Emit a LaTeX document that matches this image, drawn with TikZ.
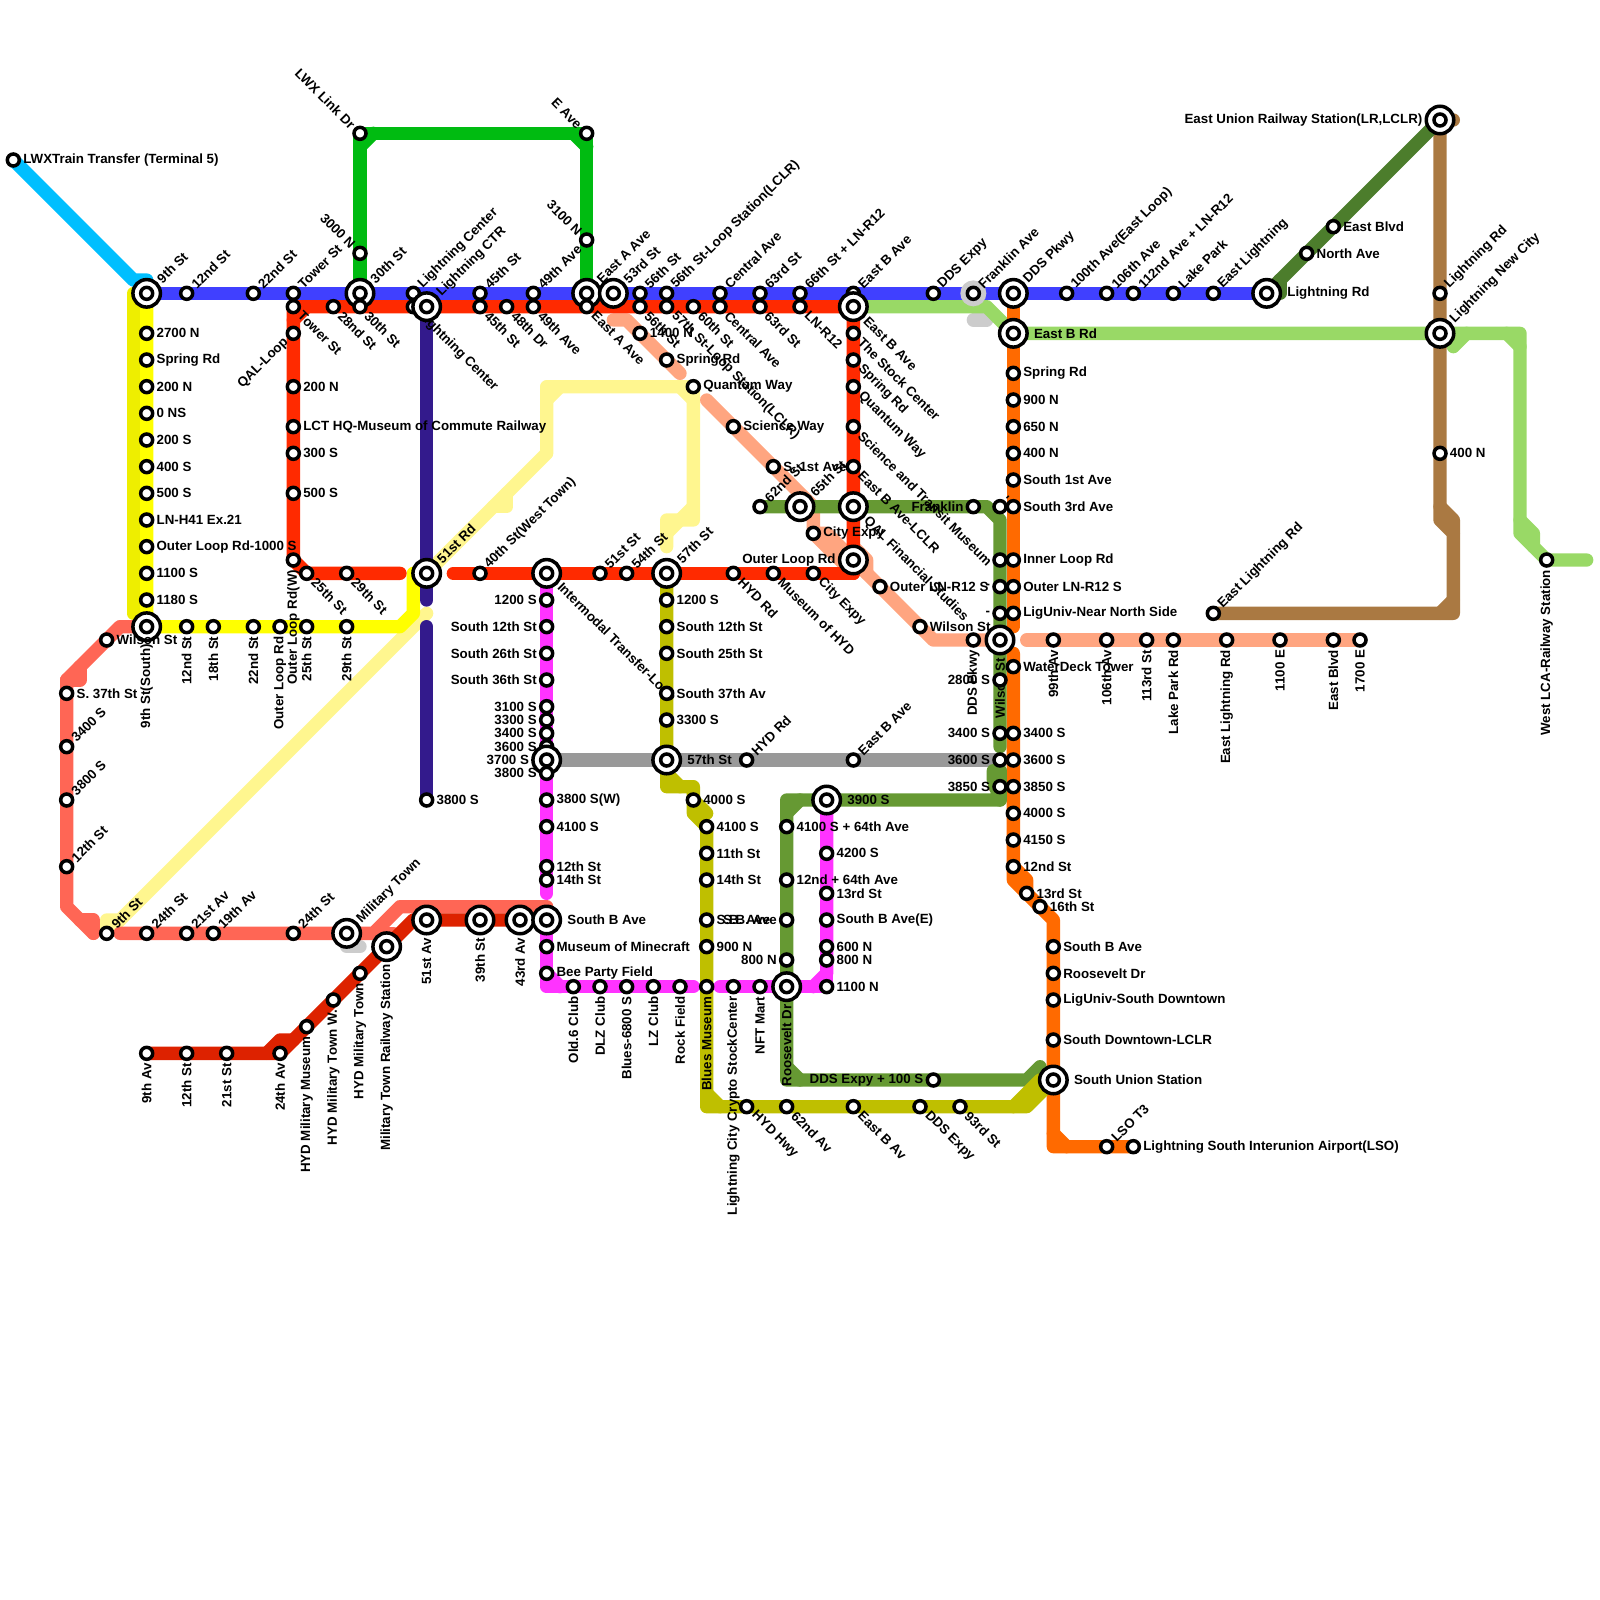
\documentclass[tikz,border=0pt]{standalone}
\usepackage{fontspec}
\setmainfont{Liberation Sans}
\usetikzlibrary{backgrounds}
\definecolor{lnblue}{HTML}{4040FF}
\definecolor{lnred}{HTML}{FF2A00}
\definecolor{lncyan}{HTML}{00BFFF}
\definecolor{lnyellow}{HTML}{FFFF00}
\definecolor{lndkyellow}{HTML}{EEEE00}
\definecolor{lnpale}{HTML}{FFF68F}
\definecolor{lncoral}{HTML}{FF6655}
\definecolor{lndkred}{HTML}{DD2200}
\definecolor{lngreen}{HTML}{00BB11}
\definecolor{lnpurple}{HTML}{331A8C}
\definecolor{lnmagenta}{HTML}{FF33FF}
\definecolor{lnolive}{HTML}{BFBF00}
\definecolor{lnmoss}{HTML}{669933}
\definecolor{lnforest}{HTML}{4C7D2C}
\definecolor{lnlime}{HTML}{99D966}
\definecolor{lnsalmon}{HTML}{FFA580}
\definecolor{lnorange}{HTML}{FF6A00}
\definecolor{lngrey}{HTML}{999999}
\definecolor{lnbrown}{HTML}{AA7942}
\definecolor{lnhalo}{HTML}{CCCCCC}
\tikzset{
  stn/.style={circle, draw=black, fill=white, line width=3.5pt, inner sep=0pt,
              minimum size=12pt},
  hub/.style={circle, draw=black, fill=white, line width=3.5pt, inner sep=0pt,
              minimum size=27.5pt,
              path picture={\draw[line width=3.5pt] (path picture bounding box.center) circle (6pt);}},
  halo/.style={circle, fill=lnhalo, inner sep=0pt, minimum size=26pt},
  lbl/.style={inner sep=2pt, font=\fontsize{13.33}{15}\selectfont\bfseries},
  tE/.style={label={[lbl, anchor=west]0:#1}},
  hE/.style={label={[lbl, anchor=west, xshift=3pt]0:#1}},
  tW/.style={label={[lbl, anchor=east]180:#1}},
  tS/.style={label={[lbl, rotate=90, anchor=east]-90:#1}},
  tNE/.style={label={[lbl, rotate=45, anchor=west]45:#1}},
  tSE/.style={label={[lbl, rotate=-45, anchor=west]-45:#1}},
  tNW/.style={label={[lbl, rotate=-45, anchor=east]135:#1}},
  tSW/.style={label={[lbl, rotate=45, anchor=east]225:#1}},
  ln/.style={line width=13.33pt, line cap=round, line join=round},
  cyanln/.style={ln, draw=lncyan},
  paleln/.style={ln, draw=lnpale},
  dkyellowln/.style={ln, draw=lndkyellow},
  yellowln/.style={ln, draw=lnyellow},
  coralln/.style={ln, draw=lncoral},
  dkredln/.style={ln, draw=lndkred},
  greenln/.style={ln, draw=lngreen},
  blueln/.style={ln, draw=lnblue},
  redln/.style={ln, draw=lnred},
  purpleln/.style={ln, draw=lnpurple},
  magentaln/.style={ln, draw=lnmagenta},
  oliveln/.style={ln, draw=lnolive},
  mossln/.style={ln, draw=lnmoss},
  forestln/.style={ln, draw=lnforest},
  limeln/.style={ln, draw=lnlime},
  salmonln/.style={ln, draw=lnsalmon},
  orangeln/.style={ln, draw=lnorange},
  greyln/.style={ln, draw=lngrey},
  brownln/.style={ln, draw=lnbrown},
  pill/.style={ln, draw=lnhalo}
}
\begin{document}
\begin{tikzpicture}[x=13.333pt,y=-13.333pt]
  \useasboundingbox (0,0) rectangle (120,120);

  \node[stn, tE={LWXTrain Transfer (Terminal 5)}] (xlwx) at (1,12) {};

  \node[hub, tNE={9th St}] (b9th) at (11,22) {};
  \node[stn, tNE={12nd St}] (b12nd) at (14,22) {};
  \node[stn, tNE={22nd St}] (b22nd) at (19,22) {};
  \node[stn, tNE={Tower St}] (btower) at (22,22) {};
  \node[hub, tNE={30th St}] (b30th) at (27,22) {};
  \node[stn, tNE={Lightning Center}] (blc) at (31,22) {};
  \node[stn, tNE={45th St}] (b45th) at (36,22) {};
  \node[stn, tNE={49th Ave}] (b49th) at (40,22) {};
  \node[hub, tNE={East A Ave}] (beasta) at (44,22) {};
  \node[hub, tNE={53rd St}] (b53rd) at (46,22) {};
  \node[stn, tNE={56th St}] (b56th) at (48,22) {};
  \node[stn, tNE={56th St-Loop Station(LCLR)}] (b56loop) at (50,22) {};
  \node[stn, tNE={Central Ave}] (bcent) at (54,22) {};
  \node[stn, tNE={63rd St}] (b63rd) at (57,22) {};
  \node[stn, tNE={66th St + LN-R12}] (b66th) at (60,22) {};
  \node[stn, tNE={East B Ave}] (beastb) at (64,22) {};
  \node[stn, tNE={DDS Expy}] (bdds) at (70,22) {};
  \node[halo] (hfrank) at (73,22) {};
  \node[stn, tNE={Franklin Ave}] (bfrank) at (73,22) {};
  \node[hub, tNE={DDS Pkwy}] (bpkwy) at (76,22) {};
  \node[stn, tNE={100th Ave(East Loop)}] (b100th) at (80,22) {};
  \node[stn, tNE={106th Ave}] (b106th) at (83,22) {};
  \node[stn, tNE={112nd Ave + LN-R12}] (b112nd) at (85,22) {};
  \node[stn, tNE={Lake Park}] (blake) at (88,22) {};
  \node[stn, tNE={East Lightning}] (beastl) at (91,22) {};
  \node[hub, hE={Lightning Rd}] (blrd) at (95,22) {};

  \node[stn, tSE={Tower St}] (rtower) at (22,23) {};
  \node[stn, tSE={28nd St}] (r28nd) at (25,23) {};
  \node[stn, tSE={30th St}] (r30th) at (27,23) {};
  \node[stn, tSE={Lightning Center}] (rlc) at (31,23) {};
  \node[hub, tNE={Lightning CTR}] (rlctr) at (32,23) {};
  \node[stn, tSE={45th St}] (r45th) at (36,23) {};
  \node[stn, tSE={48th Dr}] (r48th) at (38,23) {};
  \node[stn, tSE={49th Ave}] (r49th) at (40,23) {};
  \node[stn, tSE={East A Ave}] (reasta) at (44,23) {};
  \node[stn, tSE={56th St}] (r56th) at (48,23) {};
  \node[stn, tSE={57th St-Loop Station(LCLR)}] (r57th) at (50,23) {};
  \node[stn, tSE={60th St}] (r60th) at (52,23) {};
  \node[stn, tSE={Central Ave}] (rcent) at (54,23) {};
  \node[stn, tSE={63rd St}] (r63rd) at (57,23) {};
  \node[stn, tSE={LN-R12}] (rlnr) at (60,23) {};
  \node[hub, tSE={East B Ave}] (rebig) at (64,23) {};
  \node[stn, tSE={The Stock Center}] (rstock) at (64,25) {};
  \node[stn, tSE={Spring Rd}] (rspring) at (64,27) {};
  \node[stn, tSE={Quantum Way}] (rquant) at (64,29) {};
  \node[stn, tSE={Science and Transit Museum}] (rsci) at (64,32) {};
  \node[stn, tSE={East B Ave-LCLR}] (rlclr) at (64,35) {};
  \node[hub, tSE={QAL Financial Studies}] (rqalf) at (64,38) {};
  \node[hub, tW={Outer Loop Rd}] (rolr) at (64,42) {};
  \node[stn, tSW={QAL-Loop}] (rqal) at (22,25) {};
  \node[stn, tE={200 N}] (r200n) at (22,29) {};
  \node[stn, tE={LCT HQ-Museum of Commute Railway}] (rlct) at (22,32) {};
  \node[stn, tE={300 S}] (r300s) at (22,34) {};
  \node[stn, tE={500 S}] (r500s) at (22,37) {};
  \node[stn, tS={Outer Loop Rd(W)}] (router) at (22,42) {};
  \node[stn, tSE={25th St}] (r25th) at (23,43) {};
  \node[stn, tSE={29th St}] (r29th) at (26,43) {};
  \node[hub, tNE={51st Rd}] (r51rd) at (32,43) {};
  \node[stn, tNE={40th St(West Town)}] (r40th) at (36,43) {};
  \node[hub, tSE={Intermodal Transfer-Loop}] (rinter) at (41,43) {};
  \node[stn, tNE={51st St}] (r51st) at (45,43) {};
  \node[stn, tNE={54th St}] (r54th) at (47,43) {};
  \node[hub, tNE={57th St}] (rc57) at (50,43) {};
  \node[stn, tSE={HYD Rd}] (rhyd) at (55,43) {};
  \node[stn, tSE={Museum of HYD}] (rmus) at (58,43) {};
  \node[stn, tSE={City Expy}] (rcity) at (61,43) {};

  \node[stn, tNW={LWX Link Dr}] (glwx) at (27,10) {};
  \node[stn, tNW={3000 N}] (g3000) at (27,19) {};
  \node[stn, tNW={E Ave}] (geave) at (44,10) {};
  \node[stn, tNW={3100 N}] (g3100) at (44,18) {};

  \node[stn, tE={2700 N}] (y2700) at (11,25) {};
  \node[stn, tE={Spring Rd}] (yspring) at (11,27) {};
  \node[stn, tE={200 N}] (y200n) at (11,29) {};
  \node[stn, tE={0 NS}] (y0ns) at (11,31) {};
  \node[stn, tE={200 S}] (y200s) at (11,33) {};
  \node[stn, tE={400 S}] (y400s) at (11,35) {};
  \node[stn, tE={500 S}] (y500s) at (11,37) {};
  \node[stn, tE={LN-H41 Ex.21}] (ylnh) at (11,39) {};
  \node[stn, tE={Outer Loop Rd-1000 S}] (yloop1) at (11,41) {};
  \node[stn, tE={1100 S}] (y1100) at (11,43) {};
  \node[stn, tE={1180 S}] (y1180) at (11,45) {};
  \node[hub, tS={9th St(South)}] (ysouth) at (11,47) {};
  \node[stn, tS={12nd St}] (y12nd) at (14,47) {};
  \node[stn, tS={18th St}] (y18th) at (16,47) {};
  \node[stn, tS={22nd St}] (y22nd) at (19,47) {};
  \node[stn, tS={Outer Loop Rd}] (yloop2) at (21,47) {};
  \node[stn, tS={25th St}] (y25th) at (23,47) {};
  \node[stn, tS={29th St}] (y29th) at (26,47) {};

  \node[stn, tNE={9th St}] (c9th) at (8,70) {};
  \node[stn, tE={Wilson St}] (cwil) at (8,48) {};
  \node[stn, tE={S. 37th St}] (c37) at (5,52) {};
  \node[stn, tNE={3400 S}] (c3400) at (5,56) {};
  \node[stn, tNE={3800 S}] (c3800) at (5,60) {};
  \node[stn, tNE={12th St}] (c12th) at (5,65) {};
  \node[stn, tNE={24th St}] (c24a) at (11,70) {};
  \node[stn, tNE={21st Av}] (c21) at (14,70) {};
  \node[stn, tNE={19th Av}] (c19) at (16,70) {};
  \node[stn, tNE={24th St}] (c24b) at (22,70) {};
  \node[hub, tNE={Military Town}] (cmil) at (26,70) {};

  \node[stn, tS={9th Av}] (d9th) at (11,79) {};
  \node[stn, tS={12th St}] (d12th) at (14,79) {};
  \node[stn, tS={21st St}] (d21st) at (17,79) {};
  \node[stn, tS={24th Av}] (d24th) at (21,79) {};
  \node[stn, tS={HYD Military Museum}] (dmus) at (23,77) {};
  \node[stn, tS={HYD Military Town W.}] (dtownw) at (25,75) {};
  \node[stn, tS={HYD Military Town}] (dtown) at (27,73) {};
  \node[hub, tS={Military Town Railway Station}] (drail) at (29,71) {};
  \node[hub, tS={51st Av}] (d51st) at (32,69) {};
  \node[hub, tS={39th St}] (d39th) at (36,69) {};
  \node[hub, tS={43rd Av}] (d43rd) at (39,69) {};
  \node[hub, hE={South B Ave}] (dsouth) at (41,69) {};

  \node[stn, tE={3800 S}] (p3800) at (32,60) {};

  \node[stn, tW={1200 S}] (m1200) at (41,45) {};
  \node[stn, tW={South 12th St}] (m12s) at (41,47) {};
  \node[stn, tW={South 26th St}] (m26s) at (41,49) {};
  \node[stn, tW={South 36th St}] (m36s) at (41,51) {};
  \node[stn, tW={3100 S}] (m3100) at (41,53) {};
  \node[stn, tW={3300 S}] (m3300) at (41,54) {};
  \node[stn, tW={3400 S}] (m3400) at (41,55) {};
  \node[stn, tW={3600 S}] (m3600) at (41,56) {};
  \node[hub, tW={3700 S}] (m3700) at (41,57) {};
  \node[stn, tW={3800 S}] (m3800) at (41,58) {};
  \node[stn, tE={3800 S(W)}] (m3800w) at (41,60) {};
  \node[stn, tE={4100 S}] (m4100) at (41,62) {};
  \node[stn, tE={12th St}] (m12th) at (41,65) {};
  \node[stn, tE={14th St}] (m14th) at (41,66) {};
  \node[stn, tE={Museum of Minecraft}] (mmine) at (41,71) {};
  \node[stn, tE={Bee Party Field}] (mbee) at (41,73) {};
  \node[stn, tS={Old.6 Club}] (mold) at (43,74) {};
  \node[stn, tS={DLZ Club}] (mdlz) at (45,74) {};
  \node[stn, tS={Blues-6800 S}] (mblues) at (47,74) {};
  \node[stn, tS={LZ Club}] (mlz) at (49,74) {};
  \node[stn, tS={Rock Field}] (mrock) at (51,74) {};
  \node[stn, tS={Blues Museum}] (mbmus) at (53,74) {};
  \node[stn, tS={Lightning City Crypto StockCenter}] (mcrypto) at (55,74) {};
  \node[stn, tS={NFT Mart}] (mnft) at (57,74) {};
  \node[hub, tS={Roosevelt Dr}] (mroos) at (59,74) {};
  \node[stn, tE={1100 N}] (m1100) at (62,74) {};
  \node[stn, tE={800 N}] (m800) at (62,72) {};
  \node[stn, tE={600 N}] (m600) at (62,71) {};
  \node[stn, tE={South B Ave(E)}] (msbe) at (62,69) {};
  \node[stn, tE={13rd St}] (m13rd) at (62,67) {};
  \node[stn, tE={4200 S}] (m4200) at (62,64) {};
  \node[hub, hE={3900 S}] (m3900) at (62,60) {};

  \node[stn, tE={1200 S}] (o1200) at (50,45) {};
  \node[stn, tE={South 12th St}] (o12s) at (50,47) {};
  \node[stn, tE={South 25th St}] (o25s) at (50,49) {};
  \node[stn, tE={South 37th Av}] (o37s) at (50,52) {};
  \node[stn, tE={3300 S}] (o3300) at (50,54) {};
  \node[hub, hE={57th St}] (o57th) at (50,57) {};
  \node[stn, tE={4000 S}] (o4000) at (52,60) {};
  \node[stn, tE={4100 S}] (o4100) at (53,62) {};
  \node[stn, tE={11th St}] (o11th) at (53,64) {};
  \node[stn, tE={14th St}] (o14th) at (53,66) {};
  \node[stn, tE={S.B. Ave}] (osb) at (53,69) {};
  \node[stn, tE={900 N}] (o900) at (53,71) {};
  \node[stn, tSE={HYD Hwy}] (ohwy) at (56,83) {};
  \node[stn, tSE={62nd Av}] (o62nd) at (59,83) {};
  \node[stn, tSE={East B Av}] (oeast) at (64,83) {};
  \node[stn, tSE={DDS Expy}] (odds) at (69,83) {};
  \node[stn, tSE={93rd St}] (o93rd) at (72,83) {};

  \node[stn, tNE={HYD Rd}] (hhyd) at (56,57) {};
  \node[stn, tNE={East B Ave}] (heast) at (64,57) {};

  \node[stn, tNE={62nd St}] (f62nd) at (57,38) {};
  \node[hub, tNE={65th St}] (f65th) at (60,38) {};
  \node[stn, tW={Franklin}] (ffrank) at (73,38) {};
  \node[stn, tNE={-}] (f38) at (75,38) {};
  \node[stn] (f42) at (75,42) {};
  \node[stn, tW={-}] (f44) at (75,44) {};
  \node[stn, tW={-}] (f46) at (75,46) {};
  \node[stn, tS={DDS Pkwy}] (spkwy) at (73,48) {};
  \node[hub, tS={Wilson St}] (fwil) at (75,48) {};
  \node[stn, tW={2800 S}] (f2800) at (75,51) {};
  \node[stn, tW={3400 S}] (f3400) at (75,55) {};
  \node[stn, tW={3600 S}] (f3600) at (75,57) {};
  \node[stn, tW={3850 S}] (f3850) at (75,59) {};
  \node[stn, tE={4100 S + 64th Ave}] (f4100) at (59,62) {};
  \node[stn, tE={12nd + 64th Ave}] (f12nd) at (59,66) {};
  \node[stn, tW={S.B. Ave}] (fsb) at (59,69) {};
  \node[stn, tW={800 N}] (f800) at (59,72) {};
  \node[stn, tW={DDS Expy + 100 S}] (fdds) at (70,81) {};

  \node[stn, tE={1400 N}] (s1400) at (48,25) {};
  \node[stn, tE={Spring Rd}] (sspring) at (50,27) {};
  \node[stn, tE={Quantum Way}] (squant) at (52,29) {};
  \node[stn, tE={Science Way}] (ssci) at (55,32) {};
  \node[stn, tE={S. 1st Ave}] (s1st) at (58,35) {};
  \node[stn, tE={City Expy}] (scity) at (61,40) {};
  \node[stn, tE={Outer LN-R12 S}] (souter) at (66,44) {};
  \node[stn, tE={Wilson St}] (swil) at (69,47) {};
  \node[stn, tS={99th Av}] (s99th) at (79,48) {};
  \node[stn, tS={106th Av}] (s106th) at (83,48) {};
  \node[stn, tS={113rd St}] (s113rd) at (86,48) {};
  \node[stn, tS={Lake Park Rd}] (slake) at (88,48) {};
  \node[stn, tS={East Lightning Rd}] (seastl) at (92,48) {};
  \node[stn, tS={1100 E}] (s1100) at (96,48) {};
  \node[stn, tS={East Blvd}] (sblvd) at (100,48) {};
  \node[stn, tS={1700 E}] (s1700) at (102,48) {};

  \node[hub, hE={East B Rd}] (neast) at (76,25) {};
  \node[stn, tE={Spring Rd}] (nspring) at (76,28) {};
  \node[stn, tE={900 N}] (n900) at (76,30) {};
  \node[stn, tE={650 N}] (n650) at (76,32) {};
  \node[stn, tE={400 N}] (n400) at (76,34) {};
  \node[stn, tE={South 1st Ave}] (n1st) at (76,36) {};
  \node[stn, tE={South 3rd Ave}] (n3rd) at (76,38) {};
  \node[stn, tE={Inner Loop Rd}] (ninner) at (76,42) {};
  \node[stn, tE={Outer LN-R12 S}] (nouter) at (76,44) {};
  \node[stn, tE={LigUniv-Near North Side}] (nnear) at (76,46) {};
  \node[stn, tE={WaterDeck Tower}] (nwater) at (76,50) {};
  \node[stn, tE={3400 S}] (n3400) at (76,55) {};
  \node[stn, tE={3600 S}] (n3600) at (76,57) {};
  \node[stn, tE={3850 S}] (n3850) at (76,59) {};
  \node[stn, tE={4000 S}] (n4000) at (76,61) {};
  \node[stn, tE={4150 S}] (n4150) at (76,63) {};
  \node[stn, tE={12nd St}] (n12nd) at (76,65) {};
  \node[stn, tE={13rd St}] (n13rd) at (77,67) {};
  \node[stn, tE={16th St}] (n16th) at (78,68) {};
  \node[stn, tE={South B Ave}] (nsouth) at (79,71) {};
  \node[stn, tE={Roosevelt Dr}] (nroos) at (79,73) {};
  \node[stn, tE={LigUniv-South Downtown}] (nlig) at (79,75) {};
  \node[stn, tE={South Downtown-LCLR}] (ndown) at (79,78) {};
  \node[hub, hE={South Union Station}] (nunion) at (79,81) {};
  \node[stn, tNE={LSO T3}] (nlso) at (83,86) {};
  \node[stn, tE={Lightning South Interunion Airport(LSO)}] (nair) at (85,86) {};

  \node[stn, tE={North Ave}] (enorth) at (98,19) {};
  \node[stn, tE={East Blvd}] (eblvd) at (100,17) {};
  \node[hub, tW={East Union Railway Station(LR,LCLR)}] (eunion) at (108,9) {};
  \node[stn, tNE={Lightning Rd}] (wlrd) at (108,22) {};
  \node[hub, tNE={Lightning New City}] (wcity) at (108,25) {};
  \node[stn, tE={400 N}] (w400) at (108,34) {};
  \node[stn, tNE={East Lightning Rd}] (weast) at (91,46) {};
  \node[stn, tS={West LCA-Railway Station}] (lwest) at (116,42) {};

  \coordinate (cy1) at (10,21);
  \coordinate (cy2) at (11,21);
  \coordinate (pa1) at (32,46);
  \coordinate (pa2) at (9,69);
  \coordinate (pa3) at (8,69);
  \coordinate (pa4) at (41,34);
  \coordinate (pa5) at (41,29);
  \coordinate (pa6) at (52,39);
  \coordinate (pa7) at (50,39);
  \coordinate (pa8) at (50,41);
  \coordinate (pa9) at (38,37);
  \coordinate (pa10) at (38,38);
  \coordinate (pa11) at (37,38);
  \coordinate (pa12) at (41,30);
  \coordinate (pa13) at (42,29);
  \coordinate (pa14) at (51,29);
  \coordinate (pa15) at (52,30);
  \coordinate (pa16) at (52,38);
  \coordinate (pa17) at (51,39);
  \coordinate (pa18) at (50,40);
  \coordinate (yd1) at (10,22);
  \coordinate (yd2) at (10,46);
  \coordinate (yd3) at (11,46);
  \coordinate (ye1) at (30,47);
  \coordinate (ye2) at (31,46);
  \coordinate (ye3) at (31,43);
  \coordinate (co1) at (9,47);
  \coordinate (co2) at (5,51);
  \coordinate (co3) at (5,68);
  \coordinate (co4) at (7,70);
  \coordinate (co5) at (6,51);
  \coordinate (co6) at (6,50);
  \coordinate (co7) at (6,69);
  \coordinate (co8) at (7,69);
  \coordinate (co9) at (9,70);
  \coordinate (co10) at (28,70);
  \coordinate (co11) at (30,68);
  \coordinate (co12) at (41,68);
  \coordinate (co13) at (29.5,70);
  \coordinate (dk1) at (20,79);
  \coordinate (dk2) at (21,78);
  \coordinate (dk3) at (22,78);
  \coordinate (dk4) at (31,69);
  \coordinate (gr1) at (27,11);
  \coordinate (gr2) at (28,10);
  \coordinate (gr3) at (43,10);
  \coordinate (gr4) at (44,11);
  \coordinate (re1) at (30,43);
  \coordinate (re2) at (34,43);
  \coordinate (re3) at (64,43);
  \coordinate (re4) at (22,24);
  \coordinate (re5) at (23,23);
  \coordinate (pu1) at (32,45);
  \coordinate (pu2) at (32,47);
  \coordinate (ma1) at (41,67);
  \coordinate (ma2) at (41,74);
  \coordinate (ma3) at (52,74);
  \coordinate (ma4) at (42,74);
  \coordinate (ma5) at (54,74);
  \coordinate (ma6) at (61,74);
  \coordinate (ma7) at (62,73);
  \coordinate (ol1) at (50,59);
  \coordinate (ol2) at (52,59);
  \coordinate (ol3) at (52,61);
  \coordinate (ol4) at (53,62);
  \coordinate (ol5) at (53,83);
  \coordinate (ol6) at (77,83);
  \coordinate (ol7) at (50,58);
  \coordinate (ol8) at (51,59);
  \coordinate (ol9) at (53,61);
  \coordinate (ol10) at (53,82);
  \coordinate (ol11) at (54,83);
  \coordinate (ol12) at (76,83);
  \coordinate (ol13) at (78,81);
  \coordinate (mo1) at (74,38);
  \coordinate (mo2) at (75,39);
  \coordinate (mo3) at (75,56);
  \coordinate (mo4) at (74.5,57.8);
  \coordinate (mo5) at (74.5,58.5);
  \coordinate (mo6) at (75,60);
  \coordinate (mo7) at (59,60);
  \coordinate (mo8) at (59,81);
  \coordinate (mo9) at (77,81);
  \coordinate (mo10) at (78,80);
  \coordinate (mo11) at (59,61);
  \coordinate (mo12) at (60,60);
  \coordinate (mo13) at (59,80);
  \coordinate (mo14) at (60,81);
  \coordinate (mo15) at (75,57.8);
  \coordinate (sa1) at (46,24);
  \coordinate (sa2) at (47,24);
  \coordinate (sa3) at (51,28);
  \coordinate (sa4) at (53,30);
  \coordinate (sa5) at (61,38);
  \coordinate (sa6) at (62,40);
  \coordinate (sa7) at (65,43);
  \coordinate (sa8) at (70,48);
  \coordinate (sa9) at (64,43);
  \coordinate (sa10) at (64,41);
  \coordinate (sa11) at (65,42);
  \coordinate (sa12) at (77,48);
  \coordinate (or1) at (76,47);
  \coordinate (or2) at (76,49);
  \coordinate (or3) at (76,66);
  \coordinate (or4) at (79,69);
  \coordinate (or5) at (79,86);
  \coordinate (or6) at (77,66);
  \coordinate (or7) at (79,85);
  \coordinate (or8) at (80,86);
  \coordinate (li1) at (74,23);
  \coordinate (li2) at (114,25);
  \coordinate (li3) at (114,40);
  \coordinate (li4) at (119,42);
  \coordinate (li5) at (109,26);
  \coordinate (li6) at (110,25);
  \coordinate (li7) at (113,25);
  \coordinate (li8) at (114,26);
  \coordinate (li9) at (114,39);
  \coordinate (li10) at (115,40);
  \coordinate (li11) at (115,41);
  \coordinate (br1) at (109,9);
  \coordinate (br2) at (108,39);
  \coordinate (br3) at (109,40);
  \coordinate (br4) at (109,46);
  \coordinate (br5) at (108,38);
  \coordinate (br6) at (109,39);
  \coordinate (br7) at (109,45);
  \coordinate (br8) at (108,46);
  \coordinate (br9) at (74.6,59);
  \coordinate (fo1) at (96,22);
  \coordinate (fo2) at (96,21);
  \coordinate (hp1) at (26,71);
  \coordinate (hp2) at (27,71);
  \coordinate (hp3) at (73,24);
  \coordinate (hp4) at (74,24);

  \begin{scope}[on background layer]
    \draw[cyanln] (xlwx.center) -- (cy1) -- (cy2) -- (b9th.center);
    \draw[pill] (hp1) -- (hp2);
    \draw[pill] (hp3) -- (hp4);

    \draw[paleln] (c9th.center) -- (pa3) -- (pa2) -- (pa1);
    \draw[paleln] (c9th.center) -- (pa2);
    \draw[paleln] (r51rd.center) -- (pa4) -- (pa5) -- (squant.center) -- (pa6) -- (pa7) -- (pa8);
    \draw[paleln] (pa9) -- (pa10) -- (pa11);
    \draw[paleln] (pa12) -- (pa13);
    \draw[paleln] (pa14) -- (pa15);
    \draw[paleln] (pa16) -- (pa17) -- (pa18);

    \draw[dkyellowln] (b9th.center) -- (yd1) -- (yd2) -- (yd3);
    \draw[yellowln] (b9th.center) -- (ysouth.center) -- (ye1) -- (ye2) -- (ye3) -- (r51rd.center);

    \draw[coralln] (ysouth.center) -- (co1) -- (co2) -- (co3) -- (co4);
    \draw[coralln] (co2) -- (co5) -- (co6);
    \draw[coralln] (co7) -- (co8) -- (co4);
    \draw[coralln] (co9) -- (co10) -- (co11) -- (co12);
    \draw[coralln] (co10) -- (co13);

    \draw[dkredln] (d9th.center) -- (d24th.center) -- (dk4) -- (dsouth.center);
    \draw[dkredln] (dk1) -- (dk2) -- (dk3);

    \draw[greenln] (b30th.center) -- (glwx.center) -- (geave.center) -- (beasta.center);
    \draw[greenln] (gr1) -- (gr2);
    \draw[greenln] (gr3) -- (gr4);

    \draw[salmonln] (sa1) -- (sa2) -- (sa3);
    \draw[salmonln] (sa4) -- (sa5) -- (scity.center) -- (sa6) -- (sa7) -- (sa8) -- (fwil.center);
    \draw[salmonln] (scity.center) -- (sa9);
    \draw[salmonln] (sa10) -- (sa11) -- (sa7);
    \draw[salmonln] (sa12) -- (s1700.center);

    \draw[limeln] (rebig.center) -- (li1) -- (neast.center) -- (li2) -- (li3) -- (lwest.center) -- (li4);
    \draw[limeln] (li5) -- (li6);
    \draw[limeln] (li7) -- (li8);
    \draw[limeln] (li9) -- (li10) -- (li11);

    \draw[brownln] (br1) -- (eunion.center) -- (br2) -- (br3) -- (br4) -- (weast.center);
    \draw[brownln] (br5) -- (br6) -- (br3);
    \draw[brownln] (br7) -- (br8);
    \draw[brownln] (br9) -- (f3850.center);

    \draw[forestln] (blrd.center) -- (eunion.center);
    \draw[forestln] (blrd.center) -- (fo1) -- (fo2);

    \draw[orangeln] (bpkwy.center) -- (or1);
    \draw[orangeln] (or2) -- (or3) -- (or4) -- (or5) -- (nair.center);
    \draw[orangeln] (n12nd.center) -- (or6) -- (n13rd.center);
    \draw[orangeln] (or7) -- (or8);

    \draw[blueln] (b9th.center) -- (blrd.center);

    \draw[greyln] (m3700.center) -- (f3600.center);

    \draw[mossln] (f62nd.center) -- (mo1) -- (mo2) -- (mo3);
    \draw[mossln] (mo15) -- (mo4) -- (mo5) -- (mo6) -- (mo7) -- (mo8) -- (mo9) -- (mo10);
    \draw[mossln] (mo15) -- (mo6);
    \draw[mossln] (mo11) -- (mo12);
    \draw[mossln] (mo13) -- (mo14);

    \draw[redln] (re3) -- (rebig.center) -- (rtower.center) -- (router.center) -- (r25th.center) -- (re1);
    \draw[redln] (re3) -- (re2);
    \draw[redln] (re4) -- (re5);

    \draw[purpleln] (rlctr.center) -- (pu1);
    \draw[purpleln] (pu2) -- (p3800.center);

    \draw[magentaln] (rinter.center) -- (ma1);
    \draw[magentaln] (dsouth.center) -- (ma2) -- (ma3);
    \draw[magentaln] (mbee.center) -- (ma4);
    \draw[magentaln] (ma5) -- (m1100.center);
    \draw[magentaln] (ma6) -- (ma7) -- (m3900.center);
    \draw[magentaln] (m1100.center) -- (ma7);

    \draw[oliveln] (rc57.center) -- (ol1) -- (ol2) -- (ol3) -- (ol4) -- (ol5) -- (ol6) -- (nunion.center);
    \draw[oliveln] (ol7) -- (ol8);
    \draw[oliveln] (o4000.center) -- (ol9);
    \draw[oliveln] (ol10) -- (ol11);
    \draw[oliveln] (ol12) -- (ol13);
  \end{scope}
\end{tikzpicture}
\end{document}
